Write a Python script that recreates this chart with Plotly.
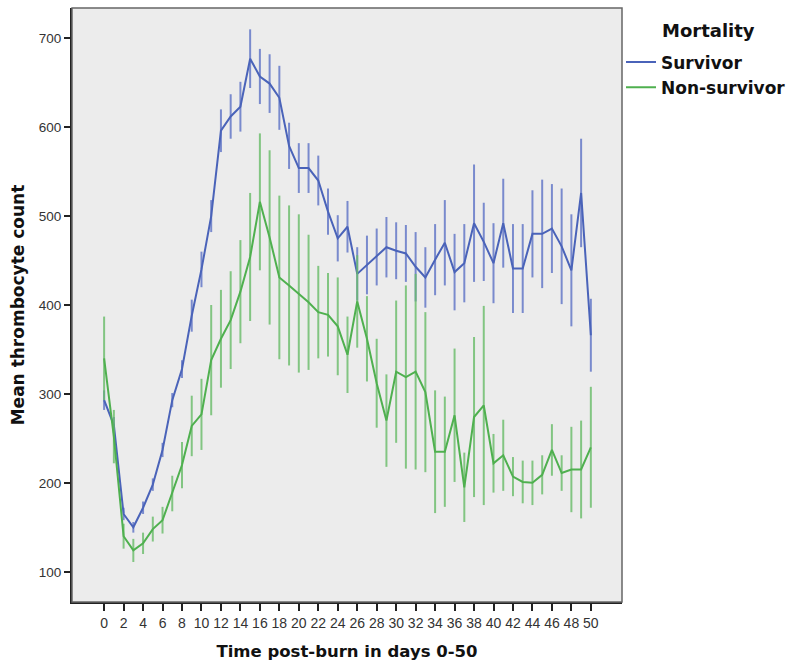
import plotly.graph_objects as go

days = list(range(0, 51))

survivor_mean = [293, 265, 165, 150, 172, 198, 237, 293, 328, 388, 440, 500, 596, 612, 623, 677, 657, 649, 633, 579,
                 554, 554, 540, 505, 475, 488, 435, 445, 454, 465, 461, 458, 443, 431, 451, 470, 437, 447, 492, 471,
                 447, 492, 441, 441, 480, 480, 486, 466, 439, 526, 366]
survivor_err = [11, 9, 7, 6, 7, 7, 8, 8, 10, 18, 20, 18, 24, 25, 28, 33, 31, 33, 36, 26,
                28, 28, 28, 26, 26, 29, 30, 33, 32, 34, 32, 32, 39, 34, 40, 48, 43, 44, 66, 44,
                45, 50, 50, 50, 49, 61, 50, 65, 63, 61, 41]

nonsurvivor_mean = [340, 252, 140, 124, 132, 148, 158, 188, 220, 264, 277, 338, 362, 383, 415, 454, 516, 476, 431, 422,
                    413, 403, 392, 389, 376, 344, 404, 362, 312, 270, 325, 319, 325, 302, 235, 235, 276, 195, 274, 287,
                    222, 231, 207, 201, 200, 209, 237, 211, 215, 215, 240]
nonsurvivor_err = [47, 30, 14, 13, 12, 14, 15, 20, 26, 34, 40, 62, 55, 55, 58, 72, 77, 98, 92, 90,
                   89, 76, 52, 47, 55, 43, 52, 48, 50, 52, 80, 103, 110, 90, 69, 62, 75, 39, 90, 112,
                   33, 40, 22, 24, 25, 22, 29, 20, 48, 55, 68]

x_ticks = list(range(0, 51, 2))
y_ticks = [100, 200, 300, 400, 500, 600, 700]

BLUE = "#4a63b9"
BLUE_ERR = "rgba(92,114,198,0.8)"
GREEN = "#4fb04f"
GREEN_ERR = "rgba(104,188,104,0.8)"

fig = go.Figure()
fig.add_trace(go.Scatter(
    x=days, y=survivor_mean, mode="lines", name="Survivor",
    line=dict(color=BLUE, width=2),
    error_y=dict(type="data", array=survivor_err, color=BLUE_ERR, thickness=2, width=0),
))
fig.add_trace(go.Scatter(
    x=days, y=nonsurvivor_mean, mode="lines", name="Non-survivor",
    line=dict(color=GREEN, width=2),
    error_y=dict(type="data", array=nonsurvivor_err, color=GREEN_ERR, thickness=2, width=0),
))

tick_family = "Liberation Sans, Arial, sans-serif"
title_family = "DejaVu Sans, Verdana, sans-serif"

fig.update_layout(
    width=796, height=667,
    margin=dict(l=72, r=174, t=8, b=65, autoexpand=False),
    paper_bgcolor="white",
    plot_bgcolor="#ececec",
    font=dict(family=tick_family, color="#222"),
    showlegend=True,
    legend=dict(
        x=1.0 - 1 / 550, xanchor="left", y=1 - 36.5 / 594, yanchor="top",
        font=dict(size=17, family=title_family, color="#111", weight="bold"),
        bgcolor="rgba(0,0,0,0)", borderwidth=0,
        itemwidth=30, tracegroupgap=0,
    ),
    annotations=[dict(
        text="<b>Mortality</b>", xref="paper", yref="paper",
        x=1.0 + 38 / 550, y=1 - 23 / 594, xanchor="left", yanchor="middle",
        showarrow=False, font=dict(size=18, family=title_family, color="#111"),
    )],
    shapes=[dict(type="rect", xref="paper", yref="paper", x0=0, x1=1, y0=0, y1=1,
                 line=dict(color="#666", width=1.5), layer="above")],
)

fig.update_xaxes(
    range=[-3.3, 53.2], tickmode="array", tickvals=x_ticks, ticktext=[str(t) for t in x_ticks],
    ticks="outside", ticklen=7, tickwidth=1.5, tickcolor="#222",
    showgrid=False, zeroline=False, showline=True, linecolor="#222", linewidth=2,
    tickfont=dict(size=14, color="#333"),
    title=dict(text="<b>Time post-burn in days 0-50</b>",
               font=dict(size=16.5, family=title_family, color="#111"), standoff=16),
)
fig.update_yaxes(
    range=[66, 734], tickmode="array", tickvals=y_ticks, ticktext=[str(t) for t in y_ticks],
    ticks="outside", ticklen=6, tickwidth=1.5, tickcolor="#222",
    showgrid=False, zeroline=False, showline=True, linecolor="#222", linewidth=2,
    tickfont=dict(size=13.5, color="#333"),
    title=dict(text="<b>Mean thrombocyte count</b>",
               font=dict(size=17, family=title_family, color="#111"), standoff=10),
)

fig.write_html("out.html")
